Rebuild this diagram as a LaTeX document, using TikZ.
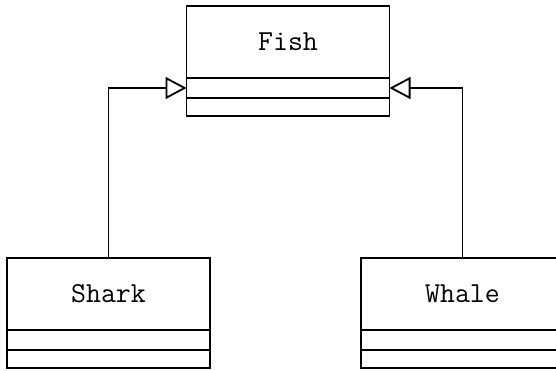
\documentclass[tikz,border=0pt]{standalone}
\usepackage{fontspec}
\usetikzlibrary{positioning}
\usetikzlibrary{arrows.meta}
\tikzset{>=latex}
\tikzset{
    classname/.style={draw, line width=1.8pt, inner sep=0pt, outer sep=0pt,
        minimum width=203pt, minimum height=72pt,
        font=\ttfamily\fontsize{29}{34}\selectfont},
    classpart/.style={draw, line width=1.8pt, inner sep=0pt, outer sep=0pt,
        minimum width=203pt, minimum height=#1},
    inherit/.style={line width=1.8pt, -{Triangle[open, length=21pt, width=22pt]}}
}

\begin{document}
\begin{tikzpicture}[x=1pt, y=-1pt]
    \useasboundingbox (0,0) rectangle (556,370);

    % Parent class
    \node[classname] (fish) at (288,42) {Fish};
    \node[classpart=20pt, below=0pt of fish] (fishattr) {};
    \node[classpart=18pt, below=0pt of fishattr] (fishops) {};

    % Child classes
    \node[classname] (shark) at (108.5,294) {Shark};
    \node[classpart=20pt, below=0pt of shark] (sharkattr) {};
    \node[classpart=18pt, below=0pt of sharkattr] (sharkops) {};

    \node[classname] (whale) at (462.5,294) {Whale};
    \node[classpart=20pt, below=0pt of whale] (whaleattr) {};
    \node[classpart=18pt, below=0pt of whaleattr] (whaleops) {};

    % Generalisation arrows
    \draw[inherit] (shark.north) |- (fishattr.west);
    \draw[inherit] (whale.north) |- (fishattr.east);
\end{tikzpicture}
\end{document}
